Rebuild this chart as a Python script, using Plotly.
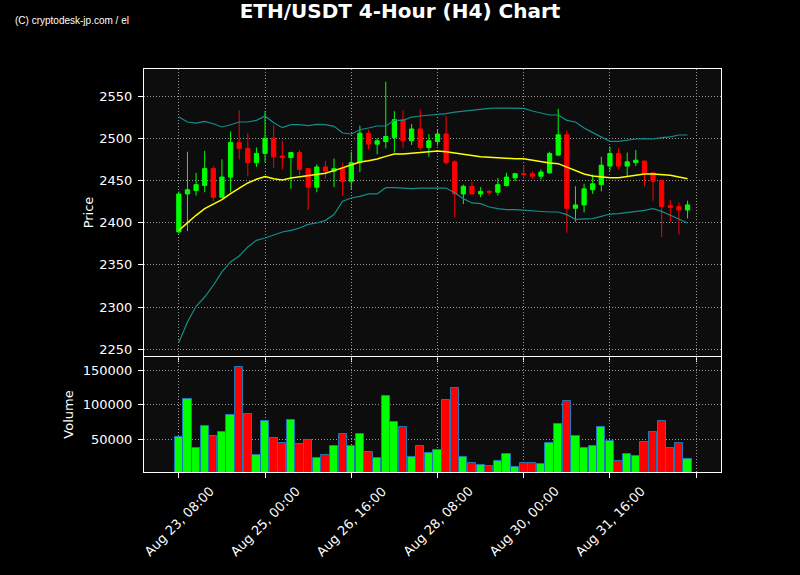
import pandas as pd
import plotly.graph_objects as go
from plotly.subplots import make_subplots

# ---------------- data ----------------
times = pd.date_range("2024-08-23 08:00", periods=60, freq="4h")

opens = [2389, 2434, 2438, 2444, 2464, 2430, 2454, 2495, 2488, 2471,
         2482, 2500, 2479, 2477, 2483, 2464, 2442, 2466, 2461, 2464,
         2449, 2471, 2506, 2493, 2496, 2501, 2522, 2497, 2511, 2489,
         2496, 2505, 2472, 2434, 2443, 2434, 2437, 2436, 2444, 2453,
         2458, 2458, 2455, 2459, 2480, 2504, 2417, 2421, 2439, 2445,
         2467, 2482, 2467, 2471, 2473, 2459, 2450, 2420, 2419, 2415]
highs = [2437, 2484, 2459, 2485, 2467, 2475, 2508, 2533, 2506, 2489,
         2532, 2515, 2497, 2484, 2486, 2465, 2469, 2473, 2476, 2471,
         2484, 2515, 2510, 2500, 2567, 2532, 2533, 2517, 2534, 2505,
         2510, 2526, 2474, 2445, 2448, 2442, 2439, 2453, 2459, 2459,
         2468, 2461, 2463, 2484, 2535, 2509, 2443, 2446, 2457, 2478,
         2490, 2488, 2483, 2486, 2473, 2459, 2450, 2427, 2424, 2426]
lows = [2387, 2390, 2432, 2436, 2425, 2429, 2436, 2475, 2455, 2466,
        2471, 2465, 2463, 2440, 2456, 2415, 2436, 2452, 2442, 2432,
        2439, 2460, 2487, 2481, 2488, 2483, 2488, 2492, 2486, 2478,
        2491, 2469, 2406, 2422, 2434, 2430, 2432, 2432, 2443, 2449,
        2452, 2452, 2451, 2458, 2479, 2388, 2401, 2412, 2434, 2437,
        2461, 2463, 2455, 2467, 2443, 2426, 2383, 2401, 2386, 2405]
closes = [2434, 2439, 2445, 2464, 2430, 2454, 2495, 2488, 2471, 2482,
          2500, 2478, 2477, 2483, 2463, 2442, 2466, 2461, 2464, 2449,
          2471, 2506, 2493, 2497, 2502, 2522, 2497, 2511, 2489, 2497,
          2505, 2471, 2434, 2443, 2434, 2437, 2436, 2445, 2454, 2458,
          2457, 2455, 2460, 2482, 2504, 2417, 2421, 2440, 2446, 2468,
          2482, 2467, 2472, 2474, 2458, 2449, 2419, 2418, 2415, 2421]
volumes = [52900, 108000, 38400, 68800, 54300, 60100, 84800, 153900, 87200, 28300,
           76100, 51400, 44200, 77500, 42800, 49500, 23400, 28300, 39900, 58200,
           41300, 57200, 32100, 23400, 113300, 74600, 67400, 25400, 41300, 31200,
           35300, 106500, 123900, 25400, 16700, 13800, 12300, 19600, 29700, 10900,
           16700, 16700, 15200, 44200, 71700, 105100, 54300, 37000, 39900, 67400,
           47100, 19600, 29700, 26800, 45700, 60100, 76100, 38400, 44200, 22500]
sma = [2390.9, 2400.0, 2408.7, 2416.6, 2421.7, 2427.2, 2434.3, 2441.0, 2447.0, 2451.3,
       2454.5, 2452.1, 2450.5, 2452.9, 2454.5, 2456.0, 2456.8, 2458.4, 2461.6, 2464.7,
       2467.9, 2471.8, 2473.4, 2475.4, 2478.5, 2481.3, 2481.3, 2482.1, 2483.3, 2484.1,
       2484.9, 2484.1, 2482.5, 2480.5, 2478.9, 2478.1, 2477.4, 2476.6, 2475.8, 2475.8,
       2475.8, 2474.2, 2471.8, 2470.6, 2469.9, 2465.5, 2461.2, 2457.6, 2455.3, 2454.1,
       2453.3, 2453.3, 2454.9, 2456.4, 2457.6, 2457.6, 2456.8, 2456.0, 2454.1, 2452.1]
bb_upper = [2525.1, 2519.2, 2518.0, 2520.0, 2517.2, 2513.3, 2516.0, 2519.2, 2519.2, 2521.2,
            2526.3, 2518.4, 2512.5, 2516.0, 2516.0, 2514.9, 2516.4, 2516.0, 2514.1, 2506.2,
            2505.0, 2510.1, 2512.1, 2514.5, 2514.5, 2521.2, 2521.2, 2525.1, 2526.3, 2527.1,
            2527.9, 2529.1, 2531.0, 2532.2, 2533.4, 2534.2, 2535.4, 2535.8, 2535.8, 2535.8,
            2535.4, 2532.2, 2529.9, 2527.5, 2527.5, 2521.2, 2519.2, 2512.1, 2506.6, 2501.5,
            2496.3, 2496.3, 2497.9, 2499.1, 2499.5, 2499.1, 2500.7, 2501.5, 2503.8, 2503.8]
bb_lower = [2257.9, 2282.3, 2300.9, 2311.9, 2325.8, 2341.6, 2353.4, 2360.5, 2371.2, 2379.0,
            2381.8, 2385.8, 2388.9, 2390.9, 2393.7, 2398.0, 2399.6, 2402.7, 2409.5, 2425.3,
            2429.2, 2431.2, 2434.0, 2434.0, 2441.4, 2441.4, 2441.0, 2440.3, 2441.0, 2441.4,
            2441.0, 2441.0, 2435.5, 2428.4, 2423.3, 2422.5, 2418.5, 2416.6, 2415.4, 2415.4,
            2414.6, 2413.4, 2412.6, 2412.6, 2412.6, 2409.5, 2403.9, 2404.3, 2404.7, 2407.5,
            2410.2, 2410.6, 2411.8, 2412.6, 2414.6, 2416.6, 2413.4, 2408.7, 2403.9, 2399.5]

tick_labels = ["Aug 23, 08:00", "Aug 25, 00:00", "Aug 26, 16:00",
               "Aug 28, 08:00", "Aug 30, 00:00", "Aug 31, 16:00", ""]

# ---------------- figure ----------------
UP, DOWN = "#00ff00", "#ff0000"
step = pd.Timedelta(hours=4)
tick_vals = list(times[::10]) + [times[-1] + step]
x_range = [times[0] - step * 4.04, times[0] + step * 62.88]
vol_colors = [UP if c >= o else DOWN for o, c in zip(opens, closes)]

fig = make_subplots(rows=2, cols=1, shared_xaxes=True, vertical_spacing=0.003)

fig.add_trace(go.Candlestick(
    x=times, open=opens, high=highs, low=lows, close=closes,
    increasing=dict(line=dict(color=UP, width=1), fillcolor=UP),
    decreasing=dict(line=dict(color=DOWN, width=1), fillcolor=DOWN),
    whiskerwidth=0, showlegend=False), row=1, col=1)

fig.add_trace(go.Scatter(x=times, y=bb_upper, mode="lines",
                         line=dict(color="#148c8c", width=1.2), showlegend=False), row=1, col=1)
fig.add_trace(go.Scatter(x=times, y=bb_lower, mode="lines",
                         line=dict(color="#148c8c", width=1.2), showlegend=False), row=1, col=1)
fig.add_trace(go.Scatter(x=times, y=sma, mode="lines",
                         line=dict(color="#ffff00", width=1.5), showlegend=False), row=1, col=1)

fig.add_trace(go.Bar(x=times, y=volumes, marker=dict(color=vol_colors,
                     line=dict(color="#1f77b4", width=1)),
                     width=step.total_seconds() * 1000 * 0.95, showlegend=False), row=2, col=1)

axis_common = dict(showline=True, mirror=True, linecolor="white", linewidth=1,
                   showgrid=True, gridcolor="#9a9a9a", griddash="1px,2px", gridwidth=1,
                   ticks="outside", tickcolor="white", ticklen=5,
                   tickfont=dict(size=13, color="white"), zeroline=False)

fig.update_xaxes(**axis_common, range=x_range, tickvals=tick_vals, ticktext=tick_labels,
                 rangeslider=dict(visible=False), showticklabels=False)

fig.update_yaxes(**axis_common, ticklabelstandoff=3)
fig.update_yaxes(range=[2242, 2582], tickvals=[2250, 2300, 2350, 2400, 2450, 2500, 2550],
                 domain=[0.2878, 1.0], title=dict(text="Price", font=dict(size=13), standoff=2),
                 row=1, col=1)
fig.update_yaxes(range=[3100, 168800], tickvals=[50000, 100000, 150000], tickformat="d",
                 domain=[0.0, 0.2854], title=dict(text="Volume", font=dict(size=13), standoff=6),
                 row=2, col=1)

PW, PH, L, T = 577, 403, 144, 69

# x tick labels, rotated 45 deg and centred under each tick (like the reference)
label_annots = [dict(text=txt, x=tv, xref="x2", y=(T + PH - 521) / PH, yref="paper",
                     textangle=-45, xanchor="center", yanchor="middle", showarrow=False,
                     font=dict(size=13, color="white"))
                for tv, txt in zip(tick_vals, tick_labels) if txt]

fig.update_layout(
    width=800, height=575,
    margin=dict(l=L, r=800 - L - PW, t=T, b=575 - T - PH),
    paper_bgcolor="black", plot_bgcolor="#0d0d0d",
    font=dict(family="DejaVu Sans", color="white", size=13),
    title=dict(text="<b>ETH/USDT 4-Hour (H4) Chart</b>", x=0.5, xanchor="center",
               xref="container", y=1 - 11 / 575, yref="container", yanchor="middle",
               font=dict(size=20, color="white")),
    showlegend=False, bargap=0,
    annotations=[dict(text="(C) cryptodesk-jp.com / el", xref="paper", yref="paper",
                      x=(12.5 - L) / PW, y=(T + PH - 20) / PH, xanchor="left", yanchor="middle",
                      showarrow=False, font=dict(family="Liberation Sans", size=10, color="white"))]
                + label_annots,
)

fig.write_html("out.html", config={"displayModeBar": False},
               post_script="document.body.style.margin='0px';"
                           "document.body.style.background='black';")
